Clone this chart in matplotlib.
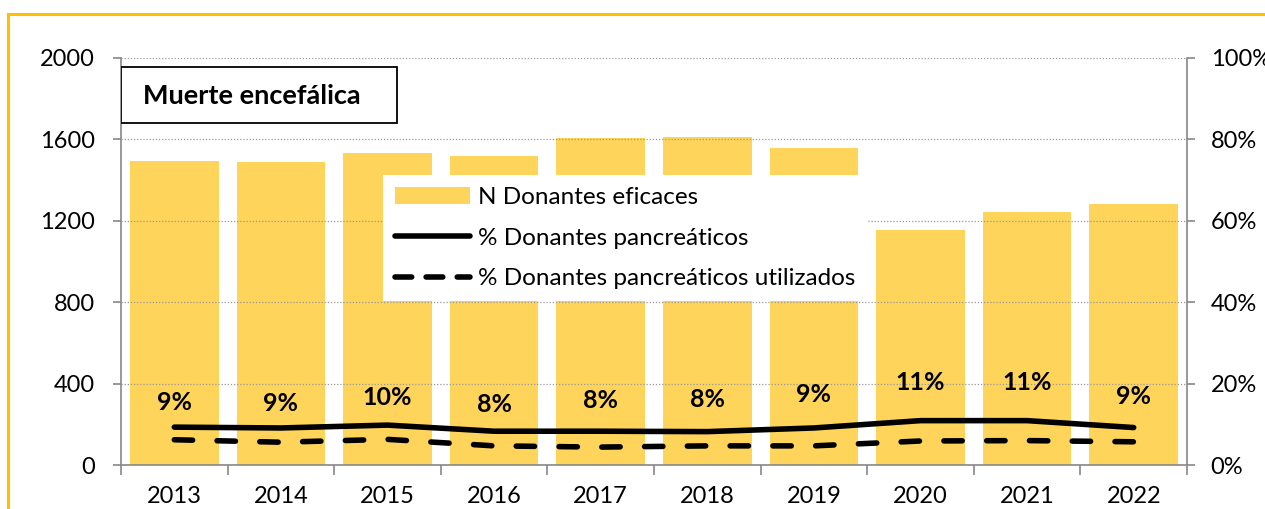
import matplotlib
matplotlib.use("Agg")
import matplotlib.pyplot as plt
from matplotlib.patches import Rectangle
from matplotlib.lines import Line2D
from matplotlib.patches import Patch
import numpy as np

years = ["2013", "2014", "2015", "2016", "2017", "2018", "2019", "2020", "2021", "2022"]
donantes = [1495, 1490, 1535, 1520, 1605, 1610, 1560, 1155, 1243, 1282]
pct_pancreaticos = [9.3, 9.1, 9.8, 8.3, 8.3, 8.2, 9.1, 10.9, 10.9, 9.2]
pct_utilizados = [6.2, 5.6, 6.3, 4.7, 4.4, 4.7, 4.7, 5.9, 6.0, 5.7]
labels = ["9%", "9%", "10%", "8%", "8%", "8%", "9%", "11%", "11%", "9%"]
label_dy = [25, 24, 28, 27, 31, 32, 33, 38, 38, 31]  # pixel offsets above line

plt.rcParams['font.family'] = ['Lato', 'DejaVu Sans']

fig = plt.figure(figsize=(12.65, 5.09), dpi=100)
ax = fig.add_axes([121/1265, 44/509, 1066/1265, 407/509])
ax2 = ax.twinx()

x = np.arange(len(years))
bar_color = "#FED45B"
ax.bar(x, donantes, width=0.83, color=bar_color, zorder=1)
ax.set_xlim(-0.5, len(years) - 0.5)
ax.set_ylim(0, 2000)
ax.set_yticks(range(0, 2001, 400))
ax.set_xticks(x)
ax.set_xticklabels(years)
ax.set_xticks(np.arange(-0.5, len(years)), minor=True)
ax.tick_params(axis='x', which='major', length=0, labelsize=17, pad=15)
ax.tick_params(axis='x', which='minor', length=7, color='#888888', width=1.2, direction='out')
ax.tick_params(axis='y', length=6, color='#888888', width=1.2, labelsize=17, pad=13)
ax.grid(axis='y', linestyle=(0, (1, 1.5)), color='#999999', linewidth=0.9, zorder=2)
ax.set_axisbelow(False)
for s in ['top', 'right']:
    ax.spines[s].set_visible(False)
for s in ['left', 'bottom']:
    ax.spines[s].set_color('#888888')
    ax.spines[s].set_linewidth(1.2)

LW = 4.0
DASH = (3.3, 4.4)
ax2.plot(x, pct_pancreaticos, color='black', linewidth=LW, solid_capstyle='round', zorder=3)
ax2.plot(x, pct_utilizados, color='black', linewidth=LW, dashes=DASH,
         dash_capstyle='round', zorder=3)
ax2.set_ylim(0, 100)
ax2.set_yticks(range(0, 101, 20))
ax2.set_yticklabels([f"{v}%" for v in range(0, 101, 20)])
ax2.tick_params(axis='y', length=6, color='#888888', width=1.2, labelsize=17, pad=11)
for s in ['top', 'left', 'bottom']:
    ax2.spines[s].set_visible(False)
ax2.spines['right'].set_color('#888888')
ax2.spines['right'].set_linewidth(1.2)

for xi, v, lab, dy in zip(x, pct_pancreaticos, labels, label_dy):
    ax2.annotate(lab, (xi, v), xytext=(0, dy * 0.72), textcoords='offset points',
                 ha='center', va='center', fontsize=18, fontweight='bold', zorder=4)

handles = [Patch(facecolor=bar_color, edgecolor='none'),
           Line2D([0], [0], color='black', linewidth=LW, solid_capstyle='round'),
           Line2D([0], [0], color='black', linewidth=LW, dashes=(3.0, 2.6), dash_capstyle='round')]
leg = ax2.legend(handles, ["N Donantes eficaces", "% Donantes pancreáticos",
                           "% Donantes pancreáticos utilizados"],
                 loc='upper left', bbox_to_anchor=(383/1265, 1 - 175/509),
                 bbox_transform=fig.transFigure, frameon=True, fancybox=False,
                 framealpha=1, facecolor='white', edgecolor='none', fontsize=17.5,
                 handlelength=3.1, handleheight=0.7, labelspacing=0.8,
                 borderpad=0.5, handletextpad=0.3, borderaxespad=0)
leg.set_zorder(10)

# Title box
ax2.add_patch(Rectangle((0, 1 - (123 - 58)/407), (397 - 121)/1066, (123 - 67)/407,
                        transform=ax2.transAxes, facecolor='white', edgecolor='black',
                        linewidth=1.3, zorder=11))
ax2.text(22/1066, 1 - (96 - 58)/407, "Muerte encefálica", transform=ax2.transAxes,
         ha='left', va='center', fontsize=19.5, fontweight='bold', zorder=12)

# outer yellow frame
fig.patches.append(Rectangle((8/1265, -0.1), 1.2, 1 - 14/509 + 0.1, transform=fig.transFigure,
                             facecolor='none', edgecolor='#FFC000', linewidth=2.2))

fig.savefig("out.png", dpi=100)
